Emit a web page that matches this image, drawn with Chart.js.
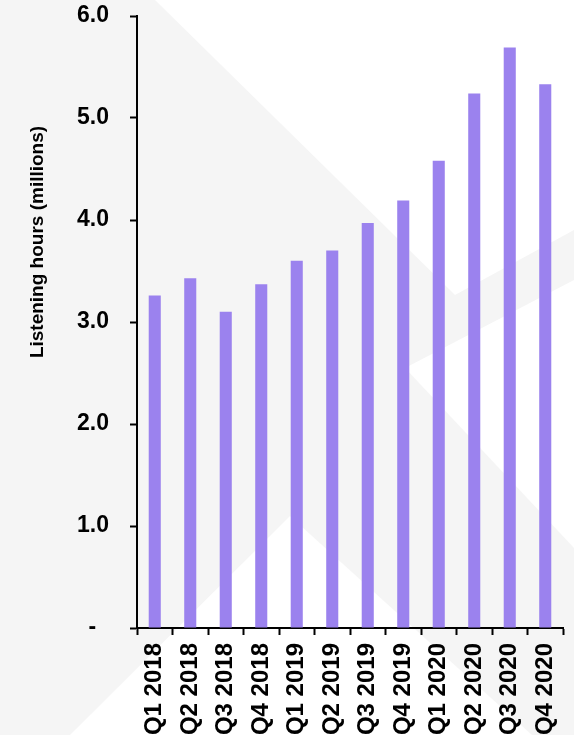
<!DOCTYPE html>
<html>
<head>
<meta charset="utf-8">
<script src="https://cdn.jsdelivr.net/npm/chart.js@4.4.1/dist/chart.umd.min.js"></script>
<style>
  html, body { margin: 0; padding: 0; background: #f5f5f5; }
  #wrap { width: 574px; height: 735px; position: relative; }
</style>
</head>
<body>
<div id="wrap"><canvas id="chart"></canvas></div>
<script>
const quarters = ["Q1 2018", "Q2 2018", "Q3 2018", "Q4 2018",
                  "Q1 2019", "Q2 2019", "Q3 2019", "Q4 2019",
                  "Q1 2020", "Q2 2020", "Q3 2020", "Q4 2020"];
const listeningHours = [3.26, 3.43, 3.10, 3.37, 3.60, 3.70, 3.97, 4.19, 4.58, 5.24, 5.69, 5.33];
const yTicks = [0, 1, 2, 3, 4, 5, 6];
const yTitleText = "Listening hours (millions)";

const FONT = "'Liberation Sans', Arial, sans-serif";

// faint watermark shapes behind the chart
const backdrop = {
  id: "backdrop",
  beforeDraw(chart) {
    const ctx = chart.ctx;
    const shapes = [
      [[155, 0], [574, 0], [574, 230], [455, 295]],
      [[405, 368], [574, 280], [574, 548]],
      [[290, 516], [532, 735], [70, 735]],
    ];
    ctx.save();
    ctx.fillStyle = "#f5f5f5";
    ctx.fillRect(0, 0, chart.width, chart.height);
    ctx.fillStyle = "#ffffff";
    shapes.forEach((pts) => {
      ctx.beginPath();
      pts.forEach(([x, y], i) => (i ? ctx.lineTo(x, y) : ctx.moveTo(x, y)));
      ctx.closePath();
      ctx.fill();
    });
    ctx.restore();
  },
};

// axis title placed where the original has it
const yTitle = {
  id: "yTitle",
  afterDraw(chart) {
    const ctx = chart.ctx;
    ctx.save();
    ctx.translate(38, 242);
    ctx.rotate(-Math.PI / 2);
    ctx.font = "bold 19px " + FONT;
    ctx.fillStyle = "#000";
    ctx.textAlign = "center";
    ctx.textBaseline = "middle";
    ctx.fillText(yTitleText, 0, 0);
    ctx.restore();
  },
};

new Chart(document.getElementById("chart"), {
  type: "bar",
  data: {
    labels: quarters,
    datasets: [{
      data: listeningHours,
      backgroundColor: "#9b82ee",
      borderWidth: 0,
      barPercentage: 0.34,
      categoryPercentage: 1,
    }],
  },
  options: {
    responsive: true,
    maintainAspectRatio: false,
    animation: false,
    layout: { padding: { top: 16, right: 11, left: 0, bottom: 0 } },
    plugins: { legend: { display: false }, tooltip: { enabled: false } },
    scales: {
      x: {
        offset: true,
        grid: {
          offset: true,
          drawOnChartArea: false,
          drawTicks: true,
          tickLength: 7,
          tickWidth: 2,
          tickColor: "#000",
        },
        border: { display: true, color: "#000", width: 2 },
        ticks: {
          color: "#000",
          font: { family: FONT, size: 24, weight: "bold" },
          minRotation: 90,
          maxRotation: 90,
          padding: 8,
          autoSkip: false,
        },
        afterFit(axis) {
          axis.height = 107;
          axis.paddingLeft = 0;
          axis.paddingRight = 0;
        },
      },
      y: {
        min: 0,
        max: 6,
        afterBuildTicks(axis) { axis.ticks = yTicks.map((v) => ({ value: v })); },
        grid: {
          drawOnChartArea: false,
          drawTicks: true,
          tickLength: 7,
          tickWidth: 2,
          tickColor: "#000",
        },
        border: { display: true, color: "#000", width: 2 },
        ticks: {
          color: "#000",
          font: { family: FONT, size: 23, weight: "bold" },
          padding: 21,
          callback: (v) => (v === 0 ? "-  " : v.toFixed(1)),
        },
        afterFit(axis) {
          axis.width = 137;
          axis.paddingTop = 0;
          axis.paddingBottom = 0;
        },
      },
    },
  },
  plugins: [backdrop, yTitle],
});
</script>
</body>
</html>
